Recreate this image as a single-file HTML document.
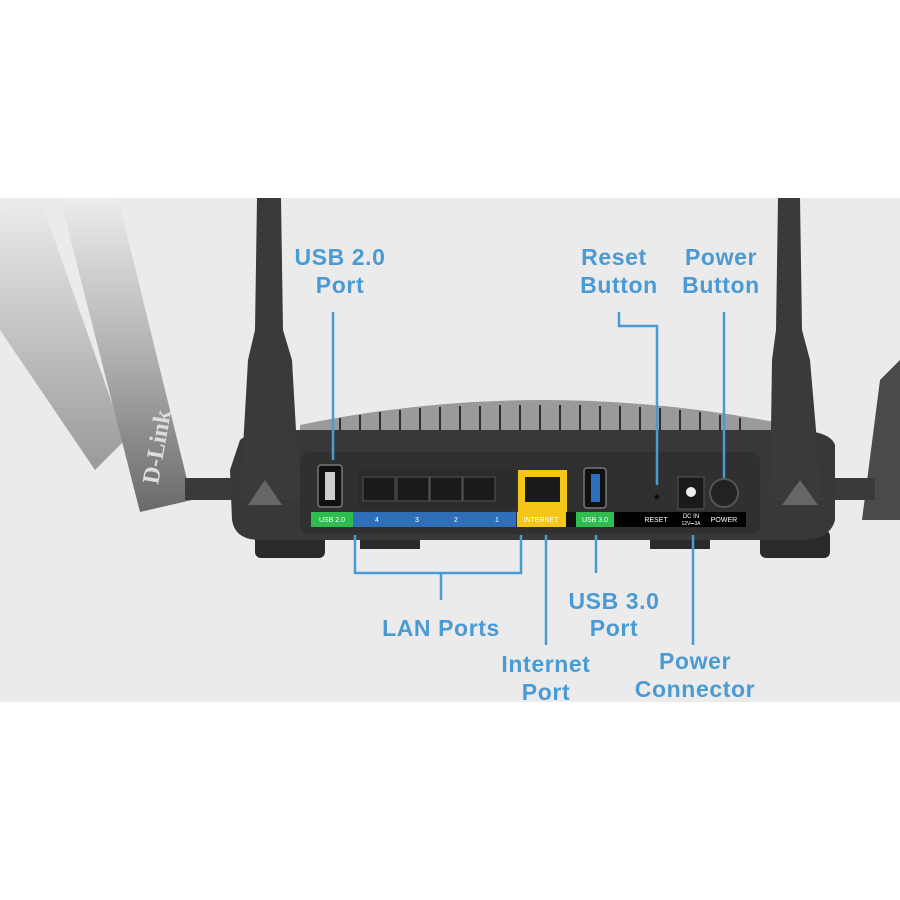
<!DOCTYPE html>
<html><head><style>
html,body{margin:0;padding:0;background:#fff}
svg{display:block}
text{font-family:"Liberation Sans",sans-serif;font-weight:bold;fill:#4a9bd4;font-size:23px;letter-spacing:0.6px;text-anchor:middle}
.s{font-size:7px;fill:#fff;font-weight:normal;letter-spacing:0}
</style></head><body>
<svg width="900" height="900" viewBox="0 0 900 900">
<defs>
<linearGradient id="ant" x1="0" y1="0" x2="0" y2="1">
<stop offset="0" stop-color="#ececec"/><stop offset="0.5" stop-color="#b0b0b0"/><stop offset="1" stop-color="#6a6a6a"/>
</linearGradient>
<linearGradient id="ant2" x1="0" y1="0" x2="0" y2="1">
<stop offset="0" stop-color="#ececec"/><stop offset="1" stop-color="#9a9a9a"/>
</linearGradient>
</defs>
<rect x="0" y="198" width="900" height="504" fill="#ebebeb"/>
<polygon points="0,210 40,198 125,440 95,470 0,330" fill="url(#ant2)"/>
<polygon points="60,198 118,198 192,500 140,512" fill="url(#ant)"/>
<text x="0" y="0" transform="translate(158,485) rotate(-80)" style="font-family:'Liberation Serif',serif;fill:#ddd;font-size:24px;text-anchor:start;letter-spacing:0">D-Link</text>
<rect x="185" y="478" width="50" height="22" fill="#3a3a3a"/>
<polygon points="880,380 900,360 900,520 862,520" fill="#4a4a4a"/>
<rect x="825" y="478" width="50" height="22" fill="#3a3a3a"/>
<path d="M300,425 Q540,375 790,425 L790,445 L300,445Z" fill="#9a9a9a"/>
<g stroke="#2e2e2e" stroke-width="2">
<line x1="340" y1="418" x2="340" y2="430"/><line x1="360" y1="415" x2="360" y2="430"/><line x1="380" y1="412" x2="380" y2="430"/><line x1="400" y1="410" x2="400" y2="430"/><line x1="420" y1="408" x2="420" y2="432"/><line x1="440" y1="407" x2="440" y2="432"/><line x1="460" y1="406" x2="460" y2="432"/><line x1="480" y1="406" x2="480" y2="432"/><line x1="500" y1="405" x2="500" y2="432"/><line x1="520" y1="405" x2="520" y2="432"/><line x1="540" y1="405" x2="540" y2="432"/><line x1="560" y1="405" x2="560" y2="432"/><line x1="580" y1="405" x2="580" y2="432"/><line x1="600" y1="406" x2="600" y2="432"/><line x1="620" y1="406" x2="620" y2="432"/><line x1="640" y1="407" x2="640" y2="432"/><line x1="660" y1="408" x2="660" y2="432"/><line x1="680" y1="410" x2="680" y2="430"/><line x1="700" y1="412" x2="700" y2="430"/><line x1="720" y1="415" x2="720" y2="430"/><line x1="740" y1="418" x2="740" y2="430"/>
</g>
<rect x="255" y="530" width="70" height="28" rx="6" fill="#2a2a2a"/>
<rect x="760" y="530" width="70" height="28" rx="6" fill="#2a2a2a"/>
<rect x="360" y="535" width="60" height="14" fill="#2a2a2a"/>
<rect x="650" y="535" width="60" height="14" fill="#2a2a2a"/>
<path d="M230,470 L240,440 Q250,430 300,430 L790,430 Q830,430 835,445 L835,520 Q830,540 800,540 L260,540 Q235,540 232,520Z" fill="#383838"/>
<rect x="300" y="452" width="460" height="82" rx="10" fill="#303030"/>
<path d="M257,198 L281,198 L283,330 L292,360 L300,500 L240,500 L248,360 L255,330Z" fill="#3a3a3a"/>
<path d="M778,198 L800,198 L802,330 L810,360 L822,500 L770,500 L772,360 L776,330Z" fill="#3a3a3a"/>
<polygon points="248,505 265,480 282,505" fill="#666"/>
<polygon points="782,505 800,480 818,505" fill="#666"/>
<rect x="318" y="465" width="24" height="42" rx="3" fill="#111" stroke="#777" stroke-width="1.5"/>
<rect x="325" y="472" width="10" height="28" fill="#ccc"/>
<rect x="358" y="470" width="158" height="38" fill="#2c2c2c"/>
<g fill="#1a1a1a" stroke="#555" stroke-width="1">
<rect x="363" y="477" width="32" height="24"/><rect x="397" y="477" width="32" height="24"/><rect x="430" y="477" width="32" height="24"/><rect x="463" y="477" width="32" height="24"/>
</g>
<rect x="518" y="470" width="49" height="42" fill="#f5c518"/>
<rect x="525" y="477" width="35" height="25" fill="#1a1a1a"/>
<rect x="584" y="468" width="22" height="40" rx="3" fill="#111" stroke="#777" stroke-width="1.5"/>
<rect x="591" y="474" width="9" height="28" fill="#2f6fc0"/>
<circle cx="657" cy="497" r="2.5" fill="#111"/>
<rect x="678" y="477" width="26" height="32" fill="#1a1a1a" stroke="#555"/>
<circle cx="691" cy="492" r="5" fill="#eee"/>
<circle cx="724" cy="493" r="14" fill="#222" stroke="#555" stroke-width="2"/>
<rect x="311" y="512" width="42" height="15" fill="#2ebd4e"/>
<rect x="353" y="512" width="163" height="15" fill="#2f6fb8"/>
<rect x="517" y="512" width="49" height="15" fill="#f5c518"/>
<rect x="566" y="512" width="10" height="15" fill="#111"/>
<rect x="576" y="512" width="38" height="15" fill="#2ebd4e"/>
<rect x="614" y="512" width="132" height="15" fill="#000"/>
<text class="s" x="332" y="522">USB 2.0</text>
<text class="s" x="377" y="522">4</text><text class="s" x="417" y="522">3</text><text class="s" x="456" y="522">2</text><text class="s" x="497" y="522">1</text>
<text class="s" x="541" y="522">INTERNET</text>
<text class="s" x="595" y="522">USB 3.0</text>
<text class="s" x="656" y="522">RESET</text>
<text class="s" x="691" y="518" style="font-size:6px">DC IN</text>
<text class="s" x="691" y="525" style="font-size:5px">12V⎓3A</text>
<text class="s" x="724" y="522">POWER</text>
<g stroke="#4a9bd4" stroke-width="2.5" fill="none">
<line x1="333" y1="312" x2="333" y2="460"/>
<polyline points="619,312 619,326 657,326 657,485"/>
<line x1="724" y1="312" x2="724" y2="478"/>
<polyline points="355,535 355,573 521,573 521,535"/>
<line x1="441" y1="573" x2="441" y2="600"/>
<line x1="546" y1="535" x2="546" y2="645"/>
<line x1="596" y1="535" x2="596" y2="573"/>
<line x1="693" y1="535" x2="693" y2="645"/>
</g>
<text x="340" y="265">USB 2.0</text><text x="340" y="293">Port</text>
<text x="614" y="265">Reset</text><text x="619" y="293">Button</text>
<text x="721" y="265">Power</text><text x="721" y="293">Button</text>
<text x="441" y="636">LAN Ports</text>
<text x="614" y="609">USB 3.0</text><text x="614" y="636">Port</text>
<text x="546" y="672">Internet</text><text x="546" y="700">Port</text>
<text x="695" y="669">Power</text><text x="695" y="697">Connector</text>
</svg>
</body></html>
